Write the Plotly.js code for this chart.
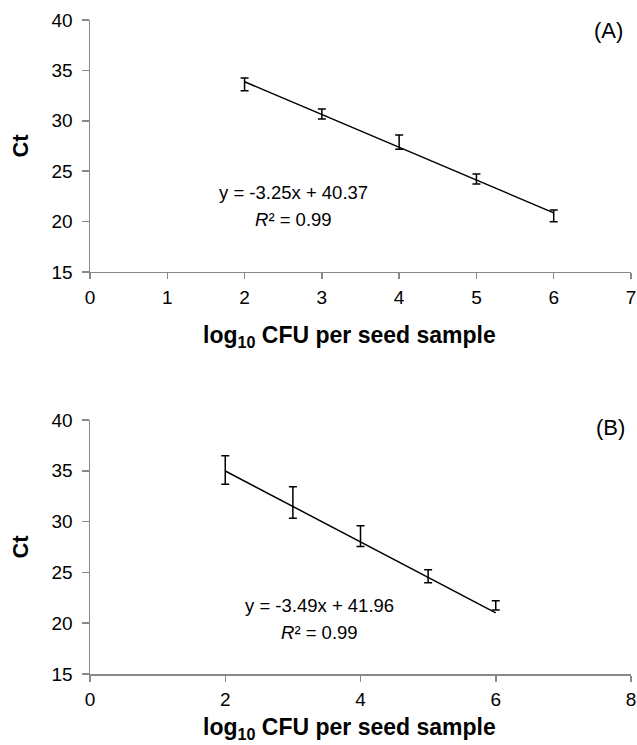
<!DOCTYPE html>
<html>
<head>
<meta charset="utf-8">
<script src="https://cdn.plot.ly/plotly-3.0.1.min.js"></script>
<style>html,body{margin:0;padding:0;background:#fff;}#chart{width:637px;height:745px;}</style>
</head>
<body>
<div id="chart"></div>
<script>
// Panel A
const xA = [2, 3, 4, 5, 6];
const ctA = [33.62, 30.67, 27.88, 24.23, 20.57];
const errA = [0.63, 0.50, 0.71, 0.50, 0.58];
const slopeA = -3.25, interceptA = 40.37;
const eqA = "y = -3.25x + 40.37";
const r2A = "<i>R</i>² = 0.99";

// Panel B
const xB = [2, 3, 4, 5, 6];
const ctB = [35.07, 31.88, 28.57, 24.62, 21.75];
const errB = [1.40, 1.56, 1.03, 0.63, 0.45];
const slopeB = -3.49, interceptB = 41.96;
const eqB = "y = -3.49x + 41.96";
const r2B = "<i>R</i>² = 0.99";

const labelA = "(A)", labelB = "(B)";
const xTitle = "log<sub>10</sub> CFU per seed sample";
const yTitle = "Ct";

const FONT = "Liberation Sans, Arial, sans-serif";
const AX = "#898989";

function trend(xs, m, b) {
  const x0 = Math.min(...xs), x1 = Math.max(...xs);
  return {x: [x0, x1], y: [m * x0 + b, m * x1 + b]};
}
const tA = trend(xA, slopeA, interceptA);
const tB = trend(xB, slopeB, interceptB);

const traces = [
  {x: xA, y: ctA, xaxis: 'x', yaxis: 'y', mode: 'markers', type: 'scatter',
   marker: {size: 1, color: 'rgba(0,0,0,0)'},
   error_y: {type: 'data', array: errA, visible: true, color: '#000', thickness: 1.5, width: 4}},
  {x: tA.x, y: tA.y, xaxis: 'x', yaxis: 'y', mode: 'lines', type: 'scatter',
   line: {color: '#000', width: 1.5}},
  {x: xB, y: ctB, xaxis: 'x2', yaxis: 'y2', mode: 'markers', type: 'scatter',
   marker: {size: 1, color: 'rgba(0,0,0,0)'},
   error_y: {type: 'data', array: errB, visible: true, color: '#000', thickness: 1.5, width: 4}},
  {x: tB.x, y: tB.y, xaxis: 'x2', yaxis: 'y2', mode: 'lines', type: 'scatter',
   line: {color: '#000', width: 1.5}}
];

function xax(range, dtick, anchor) {
  return {range: range, dtick: dtick, tick0: 0, showgrid: false, zeroline: false,
    showline: true, linecolor: AX, linewidth: 1.5, ticks: 'outside', ticklen: 6,
    tickcolor: AX, tickwidth: 1.5, anchor: anchor, ticklabelstandoff: 2,
    tickfont: {family: FONT, size: 19, color: '#000'}};
}
function yax(domain, anchor) {
  return {range: [15, 40], dtick: 5, domain: domain, showgrid: false, zeroline: false,
    showline: true, linecolor: AX, linewidth: 1.5, ticks: 'outside', ticklen: 7,
    tickcolor: AX, tickwidth: 1.5, anchor: anchor, ticklabelstandoff: 5,
    tickfont: {family: FONT, size: 19, color: '#000'},
    title: {text: yTitle, font: {family: FONT, size: 22, color: '#000', weight: 'bold'}, standoff: 17}};
}

const ann = (xref, yref, x, y, text, size) => ({xref: xref, yref: yref, x: x, y: y, text: text,
  showarrow: false, xanchor: 'center', yanchor: 'middle',
  font: {family: FONT, size: size, color: '#000'}});
const titleAnn = (y) => ({xref: 'paper', yref: 'paper', x: 0.479, y: y, text: xTitle,
  showarrow: false, xanchor: 'center', yanchor: 'middle',
  font: {family: FONT, size: 23, color: '#000', weight: 'bold'}});

const layout = {
  width: 637, height: 745,
  margin: {l: 90, r: 6, t: 20, b: 71},
  paper_bgcolor: '#fff', plot_bgcolor: '#fff',
  showlegend: false,
  xaxis: xax([0, 7], 1, 'y'),
  yaxis: yax([0.6147, 1], 'x'),
  xaxis2: xax([0, 8], 2, 'y2'),
  yaxis2: yax([0, 0.3884], 'x2'),
  annotations: [
    ann('x', 'y', 2.63, 22.84, eqA, 18.5),
    ann('x', 'y', 2.63, 20.16, r2A, 18.5),
    ann('x', 'y', 6.71, 39.0, labelA, 22),
    ann('x2', 'y2', 3.40, 21.7, eqB, 18.5),
    ann('x2', 'y2', 3.40, 19.04, r2B, 18.5),
    ann('x2', 'y2', 7.70, 39.3, labelB, 22),
    titleAnn(0.5168),
    titleAnn(-0.0835)
  ]
};

Plotly.newPlot('chart', traces, layout, {staticPlot: true, displayModeBar: false});
</script>
</body>
</html>
